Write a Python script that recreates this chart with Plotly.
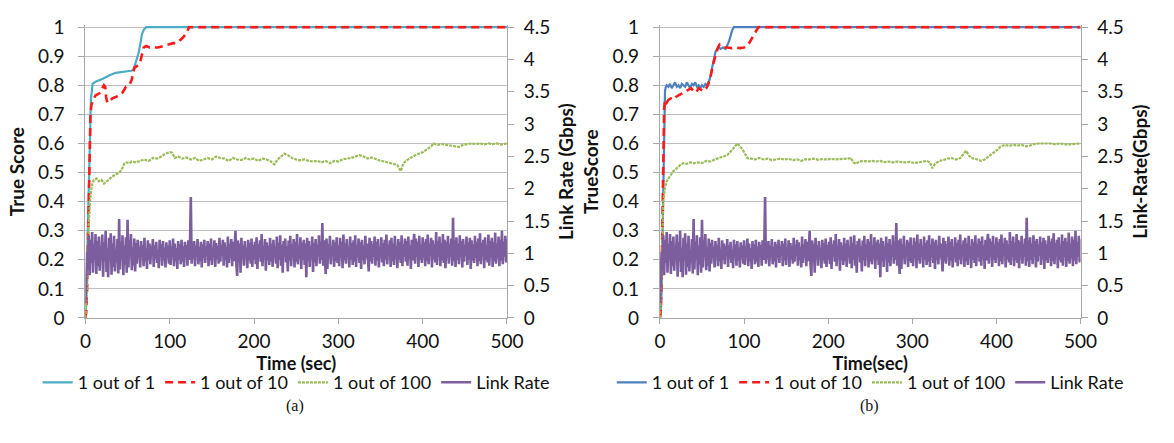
import plotly.graph_objects as go

# ---------------- data ----------------
link_rate_time = list(range(0, 501))
link_rate = [
    0.23, 0.62, 1.02, 0.74, 1.28, 0.66, 1.21, 0.85, 1.33, 0.70, 1.14, 0.92, 1.30, 0.68, 1.19, 0.80, 1.26, 0.73, 1.10, 0.95,
    1.29, 0.64, 1.17, 0.88, 1.35, 0.71, 1.08, 0.63, 1.24, 0.90, 1.31, 0.67, 1.15, 0.79, 1.27, 0.72, 1.05, 0.86, 1.22, 0.69,
    1.53, 0.75, 1.18, 0.91, 1.28, 0.66, 1.12, 0.83, 1.25, 0.70, 1.52, 0.78, 1.20, 0.94, 1.30, 0.74, 1.09, 0.81, 1.23, 0.72,
    1.16, 0.84, 1.21, 0.93, 1.10, 0.78, 1.19, 0.96, 1.13, 0.80, 1.24, 0.88, 1.07, 0.76, 1.20, 0.90, 1.15, 0.83, 1.11, 0.97,
    1.22, 0.79, 1.12, 0.92, 1.18, 0.85, 1.06, 0.77, 1.21, 0.94, 1.14, 0.81, 1.19, 0.89, 1.09, 0.78, 1.17, 0.93, 1.12, 0.84,
    1.20, 0.82, 1.10, 0.95, 1.23, 0.80, 1.15, 0.88, 1.08, 0.76, 1.19, 0.91, 1.14, 0.83, 1.21, 0.87, 1.11, 0.79, 1.18, 0.94,
    1.13, 0.81, 1.20, 0.90, 1.09, 1.87, 0.84, 1.16, 0.92, 1.19, 0.80, 1.12, 0.95, 1.22, 0.83, 1.10, 0.88, 1.18, 0.78, 1.14,
    0.93, 1.21, 0.85, 1.11, 0.97, 1.19, 0.80, 1.15, 0.89, 1.23, 0.82, 1.09, 0.94, 1.20, 0.79, 1.16, 0.91, 1.12, 0.84, 1.24,
    0.87, 1.13, 0.96, 1.21, 0.81, 1.17, 0.90, 1.10, 0.78, 1.26, 0.85, 1.14, 0.93, 1.22, 0.80, 1.18, 0.88, 1.11, 1.35, 0.83,
    0.65, 1.20, 0.86, 1.15, 0.70, 1.24, 0.92, 1.12, 0.81, 1.19, 0.95, 1.08, 0.77, 1.21, 0.89, 1.16, 0.84, 1.23, 0.79, 1.13,
    0.91, 1.18, 0.83, 1.25, 0.76, 1.14, 0.94, 1.20, 0.87, 1.30, 0.80, 1.11, 0.96, 1.22, 0.73, 1.17, 0.90, 1.12, 0.82, 1.24,
    0.88, 1.15, 0.79, 1.21, 0.93, 1.10, 0.84, 1.26, 0.77, 1.16, 0.91, 1.28, 0.81, 1.13, 0.70, 1.19, 0.95, 1.23, 0.86, 1.11,
    0.72, 1.20, 0.89, 1.27, 0.80, 1.14, 0.94, 1.22, 0.78, 1.18, 0.87, 1.30, 0.83, 1.12, 0.92, 1.25, 0.76, 1.17, 0.90, 1.21,
    0.82, 1.15, 0.63, 1.24, 0.88, 1.19, 0.79, 1.11, 0.93, 1.26, 0.71, 1.16, 0.86, 1.22, 0.80, 1.13, 0.95, 1.28, 0.84, 1.18,
    0.90, 1.47, 0.81, 1.20, 0.87, 0.68, 1.23, 0.76, 1.14, 0.92, 1.27, 0.83, 1.10, 0.96, 1.21, 0.79, 1.17, 0.88, 1.25, 0.85,
    1.12, 0.80, 1.24, 0.93, 1.18, 0.77, 1.29, 0.89, 1.15, 0.84, 1.22, 0.95, 1.11, 0.78, 1.26, 0.91, 1.16, 0.82, 1.20, 0.87,
    1.28, 0.79, 1.13, 0.94, 1.23, 0.85, 1.17, 0.76, 1.21, 0.90, 1.12, 0.83, 1.27, 0.92, 1.15, 0.80, 0.72, 1.24, 0.88, 1.19,
    0.84, 1.14, 0.95, 1.26, 0.81, 1.18, 0.89, 1.22, 0.78, 1.10, 0.93, 1.25, 0.86, 1.16, 0.80, 1.21, 0.91, 1.29, 0.83, 1.13,
    0.96, 1.20, 0.79, 1.24, 0.88, 1.15, 0.82, 1.27, 0.93, 1.11, 0.77, 1.22, 0.90, 1.17, 0.85, 1.28, 0.80, 1.14, 0.94, 1.23,
    0.87, 1.19, 0.81, 1.26, 0.92, 1.12, 0.76, 1.21, 0.89, 1.16, 1.30, 0.84, 1.23, 0.95, 1.18, 0.79, 1.27, 0.90, 1.13, 0.85,
    1.25, 0.93, 1.17, 0.80, 1.22, 0.88, 1.29, 0.83, 1.15, 0.96, 1.24, 0.78, 1.20, 0.91, 1.14, 0.86, 1.33, 0.82, 1.19, 0.94,
    1.26, 0.80, 1.16, 0.89, 1.30, 0.85, 1.21, 0.77, 1.18, 0.92, 1.27, 0.84, 1.14, 0.95, 1.23, 0.81, 1.55, 0.88, 1.20, 0.79,
    1.25, 0.90, 1.15, 0.83, 1.28, 0.94, 1.19, 0.78, 1.22, 0.87, 1.13, 0.96, 1.26, 0.82, 1.17, 0.91, 1.24, 0.76, 1.20, 0.89,
    1.14, 0.85, 1.27, 0.93, 1.18, 0.80, 1.23, 0.88, 1.31, 0.83, 1.16, 0.95, 1.21, 0.77, 1.25, 0.90, 1.12, 0.86, 1.29, 0.81,
    1.19, 0.94, 1.24, 0.79, 1.17, 0.88, 1.32, 0.84, 1.15, 0.92, 1.26, 0.80, 1.21, 0.89, 1.35, 0.83, 1.18, 0.95, 1.27, 0.86,
    1.22,
]

# Panel (a)
a_one_t = [0, 1, 2, 3.5, 5, 6.5, 8.5, 12, 20, 25, 30, 36, 45, 54, 57, 59, 61, 63, 65, 67, 69, 72, 500]
a_one_v = [0, 0.05, 0.2, 0.4, 0.6, 0.75, 0.805, 0.812, 0.822, 0.83, 0.836, 0.843, 0.846, 0.85, 0.853, 0.87,
           0.89, 0.91, 0.94, 0.975, 0.99, 1.0, 1.0]

a_ten_t = [0, 1, 2, 3, 4, 5, 6, 7, 9, 12, 15, 18, 20, 22, 23.5, 24.5, 26, 28, 32, 36, 40, 44, 48, 52, 55, 58,
           61, 63, 65, 67, 69, 72, 76, 80, 86, 92, 98, 104, 108, 112, 116, 120, 123, 500]
a_ten_v = [0, 0.02, 0.1, 0.25, 0.45, 0.6, 0.7, 0.73, 0.75, 0.765, 0.77, 0.775, 0.79, 0.80, 0.795, 0.76, 0.74,
           0.745, 0.755, 0.76, 0.765, 0.775, 0.795, 0.80, 0.82, 0.86, 0.865, 0.87, 0.88, 0.91, 0.93, 0.935, 0.93,
           0.93, 0.93, 0.935, 0.94, 0.945, 0.945, 0.955, 0.965, 0.98, 1.0, 1.0]

a_hun_t = [0, 2, 4, 6, 8, 10, 13, 16, 19, 22, 25, 28, 31, 34, 37, 40, 43, 46, 49, 52, 55, 60, 65, 70, 75, 80,
           85, 90, 95, 100, 103, 106, 110, 115, 120, 125, 130, 135, 140, 145, 150, 155, 160, 165, 170, 175, 180,
           185, 190, 195, 200, 205, 210, 215, 220, 224, 228, 232, 236, 240, 245, 250, 255, 260, 265, 270, 275,
           280, 285, 290, 295, 300, 305, 310, 315, 320, 325, 330, 335, 340, 345, 350, 355, 360, 365, 370, 374,
           377, 380, 385, 390, 395, 400, 405, 410, 413, 418, 423, 428, 433, 438, 443, 448, 453, 458, 463, 468,
           473, 478, 483, 488, 493, 500]
a_hun_v = [0, 0.1, 0.33, 0.42, 0.46, 0.475, 0.48, 0.47, 0.475, 0.462, 0.47, 0.475, 0.485, 0.49, 0.495, 0.5,
           0.51, 0.53, 0.535, 0.532, 0.538, 0.535, 0.54, 0.545, 0.54, 0.55, 0.548, 0.555, 0.565, 0.57, 0.568,
           0.55, 0.555, 0.548, 0.552, 0.545, 0.55, 0.54, 0.545, 0.55, 0.545, 0.555, 0.55, 0.548, 0.54, 0.55,
           0.545, 0.543, 0.55, 0.545, 0.548, 0.54, 0.548, 0.545, 0.538, 0.528, 0.545, 0.555, 0.565, 0.56, 0.55,
           0.545, 0.542, 0.545, 0.54, 0.538, 0.54, 0.535, 0.54, 0.532, 0.54, 0.538, 0.545, 0.548, 0.55, 0.555,
           0.56, 0.555, 0.548, 0.552, 0.545, 0.54, 0.538, 0.535, 0.53, 0.525, 0.505, 0.53, 0.54, 0.55, 0.558,
           0.565, 0.57, 0.58, 0.59, 0.6, 0.595, 0.598, 0.595, 0.592, 0.59, 0.588, 0.595, 0.598, 0.6, 0.598, 0.6,
           0.597, 0.6, 0.598, 0.6, 0.596, 0.6]

# Panel (b)
b_one_t = [0, 1, 2, 3, 4, 5, 6, 7, 8, 10, 12, 14, 16, 18, 20, 22, 24, 26, 28, 30, 32, 34, 36, 38, 40, 42, 44,
           46, 48, 50, 52, 54, 56, 58, 60, 62, 64, 66, 68, 70, 72, 75, 78, 80, 82, 84, 86, 88, 500]
b_one_v = [0, 0.02, 0.1, 0.3, 0.5, 0.7, 0.78, 0.795, 0.80, 0.795, 0.805, 0.79, 0.80, 0.81, 0.795, 0.80, 0.79,
           0.805, 0.80, 0.795, 0.81, 0.80, 0.79, 0.805, 0.80, 0.81, 0.795, 0.80, 0.79, 0.80, 0.795, 0.805, 0.80,
           0.81, 0.83, 0.86, 0.89, 0.915, 0.925, 0.93, 0.925, 0.93, 0.925, 0.935, 0.95, 0.97, 0.99, 1.0, 1.0]

b_ten_t = [0, 1, 2, 3, 4, 5, 6, 8, 10, 13, 16, 19, 22, 25, 28, 31, 34, 37, 40, 43, 46, 49, 52, 55, 57, 59, 61,
           63, 65, 67, 69, 71, 73, 76, 80, 85, 90, 95, 100, 103, 106, 109, 112, 115, 117, 500]
b_ten_v = [0, 0.02, 0.15, 0.4, 0.6, 0.72, 0.75, 0.74, 0.75, 0.755, 0.75, 0.76, 0.765, 0.77, 0.775, 0.78, 0.785,
           0.79, 0.78, 0.775, 0.79, 0.785, 0.78, 0.79, 0.80, 0.82, 0.84, 0.87, 0.89, 0.91, 0.93, 0.94, 0.935, 0.93,
           0.93, 0.928, 0.93, 0.928, 0.93, 0.935, 0.945, 0.96, 0.98, 0.995, 1.0, 1.0]

b_hun_t = [0, 2, 4, 6, 8, 10, 13, 16, 19, 22, 25, 28, 32, 36, 40, 45, 50, 55, 60, 65, 70, 75, 80, 85, 89, 92,
           95, 98, 101, 104, 108, 113, 118, 123, 128, 133, 138, 143, 148, 153, 158, 163, 168, 173, 178, 183, 188,
           193, 198, 203, 208, 213, 218, 223, 227, 230, 233, 237, 242, 247, 252, 257, 262, 267, 272, 277, 282,
           287, 292, 297, 302, 307, 312, 317, 321, 324, 327, 332, 337, 342, 347, 352, 357, 362, 364, 367, 370,
           374, 378, 382, 386, 390, 395, 400, 405, 410, 415, 420, 425, 430, 435, 440, 445, 450, 455, 460, 465,
           470, 475, 480, 485, 490, 495, 500]
b_hun_v = [0, 0.15, 0.4, 0.45, 0.47, 0.48, 0.49, 0.505, 0.512, 0.52, 0.528, 0.532, 0.53, 0.535, 0.532, 0.535,
           0.533, 0.54, 0.538, 0.545, 0.55, 0.555, 0.56, 0.575, 0.59, 0.6, 0.59, 0.58, 0.565, 0.55, 0.548, 0.545,
           0.55, 0.545, 0.548, 0.543, 0.545, 0.548, 0.545, 0.547, 0.543, 0.545, 0.54, 0.546, 0.545, 0.548, 0.544,
           0.546, 0.545, 0.547, 0.545, 0.546, 0.545, 0.548, 0.55, 0.535, 0.53, 0.538, 0.54, 0.538, 0.54, 0.538,
           0.54, 0.536, 0.538, 0.535, 0.538, 0.536, 0.535, 0.537, 0.533, 0.535, 0.538, 0.54, 0.535, 0.515, 0.53,
           0.54, 0.543, 0.548, 0.55, 0.545, 0.55, 0.57, 0.575, 0.56, 0.55, 0.548, 0.545, 0.54, 0.545, 0.555,
           0.565, 0.575, 0.59, 0.595, 0.592, 0.595, 0.593, 0.595, 0.59, 0.593, 0.598, 0.6, 0.6, 0.598, 0.6, 0.597,
           0.6, 0.598, 0.596, 0.598, 0.6, 0.6]

x_ticks = [0, 100, 200, 300, 400, 500]
left_ticks = [0, 0.1, 0.2, 0.3, 0.4, 0.5, 0.6, 0.7, 0.8, 0.9, 1]
left_labels = ["0", "0.1", "0.2", "0.3", "0.4", "0.5", "0.6", "0.7", "0.8", "0.9", "1"]
right_ticks = [0, 0.5, 1, 1.5, 2, 2.5, 3, 3.5, 4, 4.5]
right_labels = ["0", "0.5", "1", "1.5", "2", "2.5", "3", "3.5", "4", "4.5"]

series_names = ["1 out of 1", "1 out of 10", "1 out of 100", "Link Rate"]
panel_titles = {
    "a": ("Time (sec)", "True Score", "Link Rate (Gbps)", "(a)"),
    "b": ("Time(sec)", "TrueScore", "Link-Rate(Gbps)", "(b)"),
}

# ---------------- geometry ----------------
W, H = 1174, 443
FONT = "Lato"
GRID = "#C0C0C0"
AXL = "#A8A8A8"
TXT = "#111111"

def fx(p):
    return p / W

def fy(p):
    return 1 - p / H

top_px, bot_px = 17, 323
pad = 0.006  # small headroom so lines at 1.0 are not clipped
plot_h = bot_px - top_px
y_dom = [fy(bot_px), fy(top_px - plot_h * pad)]
panels = {"a": (81, 511), "b": (667, 1096)}

fig = go.Figure()

styles = {
    "a": ["#4BACC6", "#FF1A1A", "#9BBB59", "#7C5E9E"],
    "b": ["#4F81BD", "#FF1A1A", "#9BBB59", "#7C5E9E"],
}

data = {
    "a": [(a_one_t, a_one_v), (a_ten_t, a_ten_v), (a_hun_t, a_hun_v)],
    "b": [(b_one_t, b_one_v), (b_ten_t, b_ten_v), (b_hun_t, b_hun_v)],
}

axes = {"a": ("x", "y", "y2", "legend"), "b": ("x2", "y3", "y4", "legend2")}

for key in ["a", "b"]:
    xa, ya, ya2, lg = axes[key]
    cols = styles[key]
    (t1, v1), (t2, v2), (t3, v3) = data[key]
    fig.add_trace(go.Scatter(x=t1, y=v1, xaxis=xa, yaxis=ya, mode="lines", name=series_names[0],
                             line=dict(color=cols[0], width=2.2), legend=lg))
    fig.add_trace(go.Scatter(x=t2, y=v2, xaxis=xa, yaxis=ya, mode="lines", name=series_names[1],
                             line=dict(color=cols[1], width=2.6, dash="8px,5px"), legend=lg))
    fig.add_trace(go.Scatter(x=t3, y=v3, xaxis=xa, yaxis=ya, mode="lines", name=series_names[2],
                             line=dict(color=cols[2], width=2.2, dash="3px,1px"), legend=lg))
    fig.add_trace(go.Scatter(x=link_rate_time, y=link_rate, xaxis=xa, yaxis=ya2, mode="lines",
                             name=series_names[3], line=dict(color=cols[3], width=2.6), legend=lg))

tickfont = dict(family=FONT, size=19, color=TXT)
titlefont = dict(family=FONT, size=18, color=TXT, weight="bold")

layout = dict(
    width=W, height=H,
    margin=dict(l=0, r=0, t=0, b=0),
    paper_bgcolor="white", plot_bgcolor="white",
    hovermode=False,
    font=dict(family=FONT, color=TXT),
)

for key, (xa, ya, ya2, lg) in axes.items():
    left, right = panels[key]
    xt, yt, y2t, cap = panel_titles[key]
    xname = "xaxis" if xa == "x" else "xaxis" + xa[1:]
    yname = "yaxis" + (ya[1:] if ya != "y" else "")
    y2name = "yaxis" + ya2[1:]
    layout[xname] = dict(
        domain=[fx(left), fx(right)], anchor=ya, range=[0, 500],
        tickvals=x_ticks, ticktext=[str(v) for v in x_ticks],
        ticks="outside", ticklen=5, tickcolor=AXL, showline=True, linecolor=AXL, linewidth=1,
        showgrid=False, zeroline=False, tickfont=tickfont, ticklabelstandoff=1,
        title=dict(text=xt, font=titlefont, standoff=0),
    )
    layout[yname] = dict(
        domain=y_dom, anchor=xa, range=[0, 1 + pad],
        tickvals=left_ticks, ticktext=left_labels,
        ticks="outside", ticklen=6, tickcolor=AXL, showline=True, linecolor=AXL, linewidth=1,
        showgrid=True, gridcolor=GRID, gridwidth=1, zeroline=False, tickfont=tickfont,
        ticklabelstandoff=10,
        title=dict(text=yt, font=dict(titlefont, size=19), standoff=8),
    )
    layout[y2name] = dict(
        overlaying=ya, anchor=xa, side="right", range=[0, 4.5 * (1 + pad)],
        tickvals=right_ticks, ticktext=right_labels,
        ticks="outside", ticklen=6, tickcolor=AXL, showline=True, linecolor=AXL, linewidth=1,
        showgrid=False, zeroline=False, tickfont=tickfont, ticklabelstandoff=6,
        title=dict(text=y2t, font=dict(titlefont, size=19), standoff=10),
    )
    layout[lg] = dict(
        orientation="h", x=fx((left + right) / 2), xanchor="center", y=fy(391), yanchor="middle",
        font=dict(family=FONT, size=18, color=TXT), bgcolor="rgba(0,0,0,0)",
        itemwidth=30, tracegroupgap=0,
    )

fig.update_layout(**layout)

for key, (left, right) in panels.items():
    fig.add_annotation(text=panel_titles[key][3], x=fx((left + right) / 2 - 1), y=fy(416),
                       xref="paper", yref="paper", showarrow=False, xanchor="center", yanchor="middle",
                       font=dict(family="Liberation Serif", size=16, color=TXT))

fig.write_html("out.html", config={"displayModeBar": False})
